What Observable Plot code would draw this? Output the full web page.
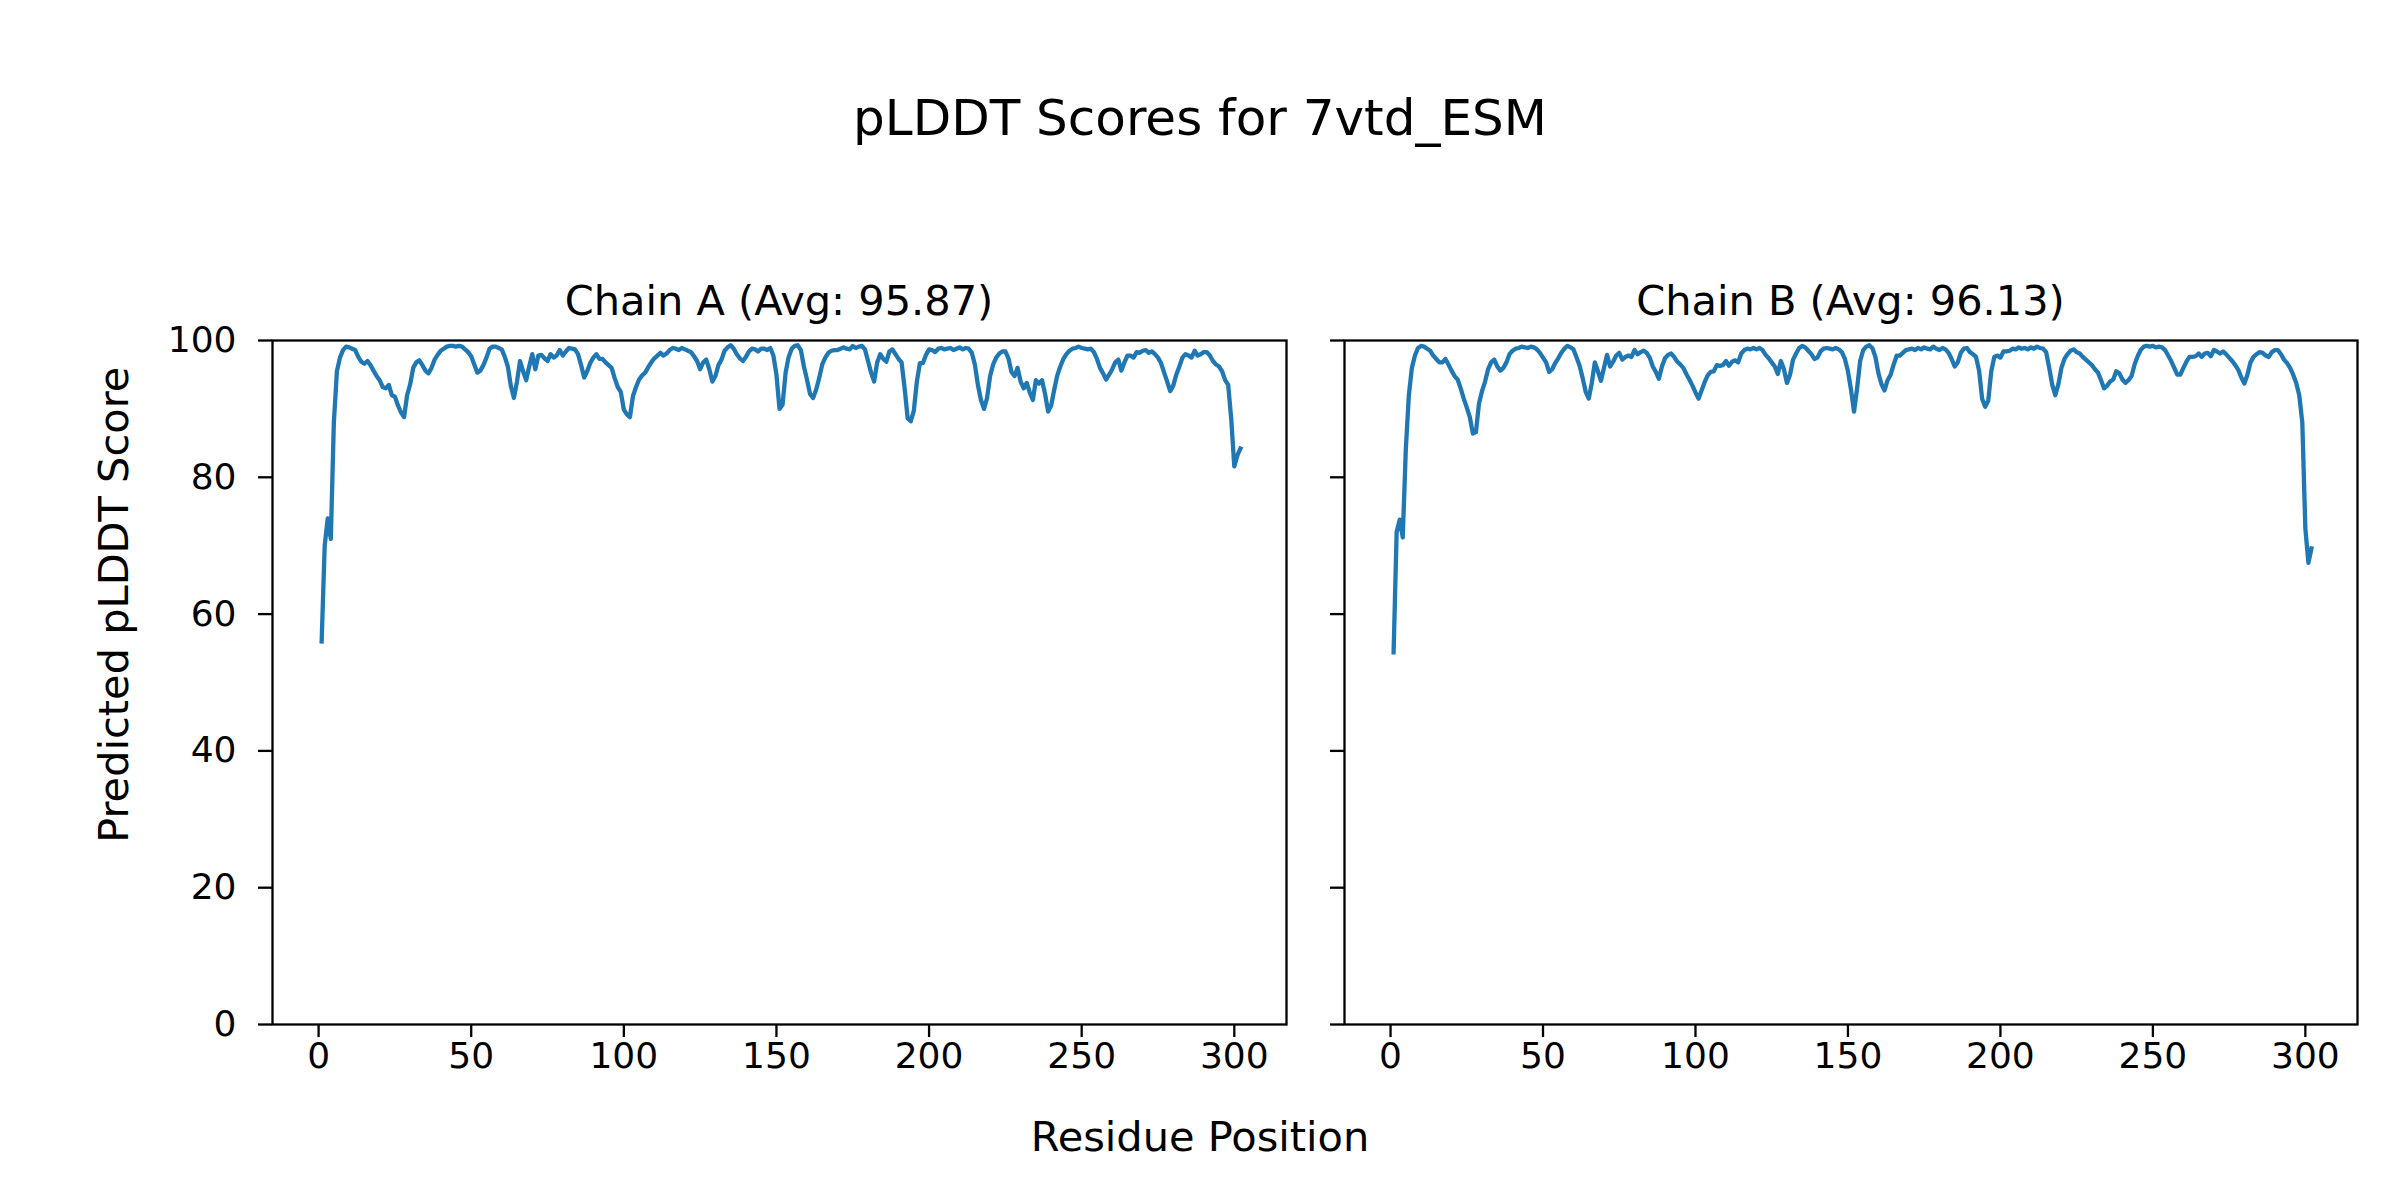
<!DOCTYPE html>
<html>
<head>
<meta charset="utf-8">
<script src="https://cdn.jsdelivr.net/npm/d3@7"></script>
<script src="https://cdn.jsdelivr.net/npm/@observablehq/plot@0.6"></script>
<style>
  html, body { margin: 0; padding: 0; background: #ffffff; }
  #fig { position: relative; width: 2400px; height: 1200px; background: #ffffff; overflow: hidden; font-family: "DejaVu Sans", sans-serif; color: #000; }
  .txt { position: absolute; white-space: nowrap; text-align: center; color: #000; }
  .panel { position: absolute; }
</style>
</head>
<body>
<div id="fig"></div>
<script>
// ---- data ----
const figTitle = "pLDDT Scores for 7vtd_ESM";
const panelTitles = ["Chain A (Avg: 95.87)", "Chain B (Avg: 96.13)"];
const xLabel = "Residue Position";
const yLabel = "Predicted pLDDT Score";
const xTicks = [0, 50, 100, 150, 200, 250, 300];
const yTicks = [0, 20, 40, 60, 80, 100];
const firstResidue = 1;

const chainA = [
56,70,74,71,88,95.5,97.5,98.6,99.1,99,
98.8,98.6,97.6,96.9,96.6,97,96.4,95.6,94.8,94.2,
93.2,93,93.5,92,91.8,90.5,89.5,88.8,92,93.6,
96,96.8,97.1,96.4,95.6,95.2,96,97.2,97.9,98.5,
98.8,99.1,99.2,99.2,99.1,99.2,99.1,98.7,98.3,97.7,
96.5,95.3,95.6,96.4,97.5,98.8,99.1,99.1,98.9,98.7,
97.6,96.2,93.3,91.6,94,97,95.5,94.2,96.2,98,
95.8,97.8,97.9,97.4,97,98,97.5,97.8,98.6,97.8,
98.4,98.9,98.8,98.7,98,96.4,94.6,95.5,96.7,97.5,
98,97.3,97.3,96.8,96.4,96,94.5,93.2,92.5,89.9,
89.2,88.8,91.9,93.2,94.3,94.9,95.3,96.1,96.8,97.4,
97.8,98.2,97.8,98.1,98.6,98.9,98.8,98.6,98.9,98.7,
98.5,98.3,97.7,97,95.8,96.8,97.2,95.8,94,94.8,
96.4,97.2,98.5,99,99.3,98.8,98,97.4,97,97.6,
98.4,98.8,98.7,98.4,98.8,98.8,98.6,98.9,97.8,95,
90,90.6,95.3,97.6,98.8,99.2,99.3,98.6,96.2,94.3,
92.2,91.6,92.8,94.5,96.5,97.5,98.2,98.5,98.6,98.6,
98.8,99,98.8,98.7,99.2,98.9,99.1,99.2,98.7,97,
95.3,94,96.8,98,97.3,96.9,98.4,98.7,98,97.3,
96.8,93,88.6,88.2,89.7,94,96.7,96.7,97.9,98.7,
98.6,98.3,98.8,98.9,98.7,98.8,98.9,98.6,98.8,99,
98.7,98.9,98.8,98.2,96.5,93.5,91.3,90,91.6,94.8,
96.5,97.5,98.1,98.4,98.4,97.4,95.4,94.8,96,94,
93,93.8,92.4,91.3,94.2,93.7,94.2,92.2,89.6,90.5,
92.8,94.9,96.2,97.3,98,98.5,98.8,98.9,99.1,98.9,
98.8,98.7,98.8,98.3,97.3,96,95.2,94.3,95,95.8,
96.8,97.2,95.6,96.8,97.8,97.8,97.5,98.3,98.2,98.5,
98.6,98.2,98.4,98,97.5,96.7,95.3,94,92.6,93.4,
95,96.2,97.5,98,97.8,97.5,98.5,97.8,98,98.3,
98.3,97.8,97,96.5,96.2,95.5,94.2,93.5,88.5,81.6,
83.2,84.2
];

const chainB = [
54.4,72,73.8,71.2,84,92,96,97.8,98.9,99.2,
99.1,98.8,98.5,97.8,97.3,96.8,96.8,97.3,96.5,95.6,
94.8,94.3,93,91.5,90.2,88.8,86.4,86.6,90.8,92.6,
94,95.8,96.8,97.2,96.2,95.6,96,96.8,98,98.5,
98.8,98.9,99.1,99,98.9,99.1,99,98.7,98.2,97.5,
96.8,95.4,95.8,96.7,97.4,98.2,98.8,99.2,99,98.7,
97.5,96.3,94.5,92.5,91.5,93.8,96.8,95.5,94.1,96,
97.9,96.2,96.9,97.8,98.2,97.2,97.6,97.8,97.6,98.6,
98,98.3,98.5,98.2,97.5,96.2,95.4,94.4,96.2,97.4,
97.9,98.1,97.6,96.9,96.5,96,95.1,94.3,93.4,92.4,
91.5,92.7,93.9,94.9,95.4,95.5,96.4,96.3,96.4,97,
96.3,96.9,97.1,96.8,98.1,98.6,98.8,98.7,98.9,98.7,
98.9,98.6,97.9,97.4,96.8,96.2,95.1,97,95.8,93.8,
95,97.2,98.1,98.9,99.2,99,98.5,98,97.3,97.5,
98.4,98.8,98.9,98.8,98.7,98.9,98.7,98.3,97.3,95.5,
92.8,89.6,93,97,98.6,99.1,99.3,98.9,97.6,95.2,
93.6,92.7,94.2,95,96.5,97.8,97.8,98.2,98.6,98.7,
98.8,98.6,98.9,98.7,99,98.8,98.7,99.1,98.8,98.6,
98.9,98.7,98.2,97.3,96.2,96.8,98.2,98.8,98.9,98.3,
98,97.6,95.6,91.5,90.3,91.2,95.5,97.6,97.8,97.5,
98.4,98.4,98.5,98.8,98.7,99,98.8,98.9,98.7,99,
98.8,99.1,98.9,98.8,98.3,96,93.5,92,93.6,96,
97.3,98,98.5,98.7,98.3,98.1,97.6,97.2,96.8,96.4,
95.8,95.3,94.2,93,93.4,94,94.3,95.5,95.2,94.3,
93.8,94.2,94.8,96.5,97.7,98.6,99.1,99.2,99.1,99.2,
99,99.1,99,98.6,97.8,97,96,95,95,96,
96.9,97.6,97.6,97.7,98.1,97.6,98.1,98.2,97.7,98.6,
98.4,98.1,98.4,98,97.5,97,96.4,95.7,94.6,93.7,
95,96.8,97.6,98,98.3,98.2,97.8,97.6,98.3,98.6,
98.6,98,97.2,96.7,96,95,93.8,92,88,72.5,
67.5,69.6
];

// ---- build ----
const fig = document.getElementById("fig");
const lineColor = "#1f77b4";
const FONT = "DejaVu Sans";
const TICK_FONT = 36;

function addText(str, size, cx, baseline, rotate) {
  const d = document.createElement("div");
  d.className = "txt";
  d.textContent = str;
  d.style.fontSize = size + "px";
  d.style.lineHeight = size + "px";
  d.style.height = size + "px";
  const w = 1400;
  d.style.width = w + "px";
  if (!rotate) {
    d.style.left = (cx - w / 2) + "px";
    d.style.top = (baseline - 0.846 * size) + "px";
  } else {
    const centerX = baseline - 0.346 * size;
    d.style.left = (centerX - w / 2) + "px";
    d.style.top = (cx - size / 2) + "px";
    d.style.transform = "rotate(-90deg)";
    d.style.transformOrigin = "50% 50%";
  }
  fig.appendChild(d);
}

function panel(values, opts) {
  const data = values.map((v, i) => ({pos: firstResidue + i, val: v}));
  const svg = Plot.plot({
    width: opts.width,
    height: 794,
    marginLeft: opts.marginLeft,
    marginRight: opts.marginRight,
    marginTop: 40,
    marginBottom: 70,
    x: {domain: [-15.1, 317.1]},
    y: {domain: [0, 100]},
    style: {fontFamily: FONT, fontSize: TICK_FONT + "px", color: "#000", background: "transparent", overflow: "visible", maxWidth: "none"},
    marks: [
      Plot.axisX({ticks: xTicks, tickSize: 13, tickPadding: 5, strokeWidth: 2.3, label: null, fontSize: TICK_FONT}),
      opts.yLabels
        ? Plot.axisY({ticks: yTicks, tickSize: 14, tickPadding: 22, strokeWidth: 2.3, label: null, fontSize: TICK_FONT})
        : Plot.axisY({ticks: yTicks, tickSize: 14, tickPadding: 22, strokeWidth: 2.3, label: null, tickFormat: () => ""}),
      Plot.line(data, {x: "pos", y: "val", stroke: lineColor, strokeWidth: 4.3, strokeLinejoin: "round", strokeLinecap: "square"}),
      Plot.frame({stroke: "#000", strokeWidth: 2.3})
    ]
  });
  svg.classList.add("panel");
  svg.style.left = opts.left + "px";
  svg.style.top = "300px";
  fig.appendChild(svg);
}

panel(chainA, {left: 0, width: 1306, marginLeft: 272, marginRight: 20, yLabels: true});
panel(chainB, {left: 1306, width: 1094, marginLeft: 38, marginRight: 43, yLabels: false});

addText(figTitle, 50, 1200, 135);
addText(panelTitles[0], 41.5, 779, 315);
addText(panelTitles[1], 41.5, 1850.5, 315);
addText(xLabel, 41.5, 1200, 1151);
addText(yLabel, 41.5, 605, 128, true);
</script>
</body>
</html>
